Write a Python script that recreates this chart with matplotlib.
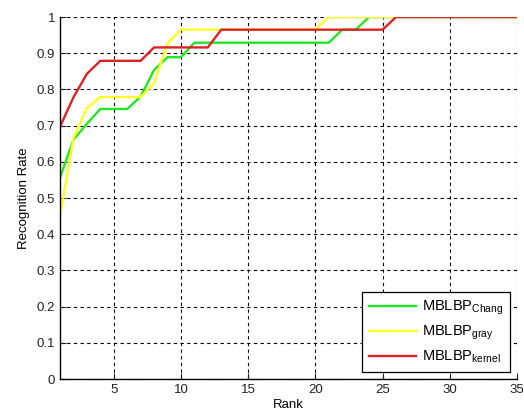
import matplotlib
matplotlib.use("Agg")
import matplotlib.pyplot as plt

rank = list(range(1, 36))
chang = [0.556, 0.661, 0.705, 0.746, 0.746, 0.746, 0.780, 0.854, 0.889, 0.889,
         0.929, 0.929, 0.929, 0.929, 0.929, 0.929, 0.929, 0.929, 0.929, 0.929,
         0.929, 0.965, 0.965, 1.0] + [1.0] * 11
gray = [0.449, 0.665, 0.748, 0.779, 0.779, 0.779, 0.779, 0.817, 0.927, 0.965,
        0.965, 0.965, 0.965, 0.965, 0.965, 0.965, 0.965, 0.965, 0.965, 0.965,
        1.0] + [1.0] * 14
kernel = [0.697, 0.778, 0.843, 0.879, 0.879, 0.879, 0.879, 0.916, 0.916, 0.916,
          0.916, 0.916, 0.965, 0.965, 0.965, 0.965, 0.965, 0.965, 0.965, 0.965,
          0.965, 0.965, 0.965, 0.965, 0.965, 1.0] + [1.0] * 9

labels = [r'MBLBP$_{Chang}$', r'MBLBP$_{gray}$', r'MBLBP$_{kernel}$']
colors = ['#22e622', '#ffff22', '#dd2222']
xticks = [5, 10, 15, 20, 25, 30, 35]
yticks = [0, 0.1, 0.2, 0.3, 0.4, 0.5, 0.6, 0.7, 0.8, 0.9, 1]
ytlabels = ['0', '0.1', '0.2', '0.3', '0.4', '0.5', '0.6', '0.7', '0.8', '0.9', '1']

plt.rcParams['font.family'] = ['Liberation Sans', 'DejaVu Sans']
plt.rcParams['mathtext.default'] = 'regular'

fig = plt.figure(figsize=(5.24, 4.17), dpi=100)
ax = fig.add_axes([0.1145, 0.0911, 0.9866 - 0.1145, 0.9592 - 0.0911])

for ys, lab, c in zip([chang, gray, kernel], labels, colors):
    ax.plot(rank, ys, color=c, lw=1.7, label=lab)

ax.set_xlim(1, 35)
ax.set_ylim(0, 1)
ax.set_xticks(xticks)
ax.set_yticks(yticks)
ax.set_yticklabels(ytlabels)
ax.grid(True, color='black', linestyle=(0, (3, 3)), linewidth=0.8)
for s in ['top', 'right']:
    ax.spines[s].set_visible(False)
for s in ['left', 'bottom']:
    ax.spines[s].set_linewidth(1.0)
ax.tick_params(direction='in', length=4, labelsize=9.5, colors='#222222')
ax.set_axisbelow(True)
ax.set_xlabel('Rank', fontsize=9.5, labelpad=2)
ax.set_ylabel('Recognition Rate', fontsize=9.5, labelpad=5)

leg = ax.legend(loc='lower right', prop={'size': 10.5}, fancybox=False, edgecolor='black',
                framealpha=1, borderaxespad=0.45, handlelength=3.2, handletextpad=0.4,
                labelspacing=0.45, borderpad=0.5)
leg.get_frame().set_linewidth(0.9)

fig.savefig('out.png', dpi=100)
